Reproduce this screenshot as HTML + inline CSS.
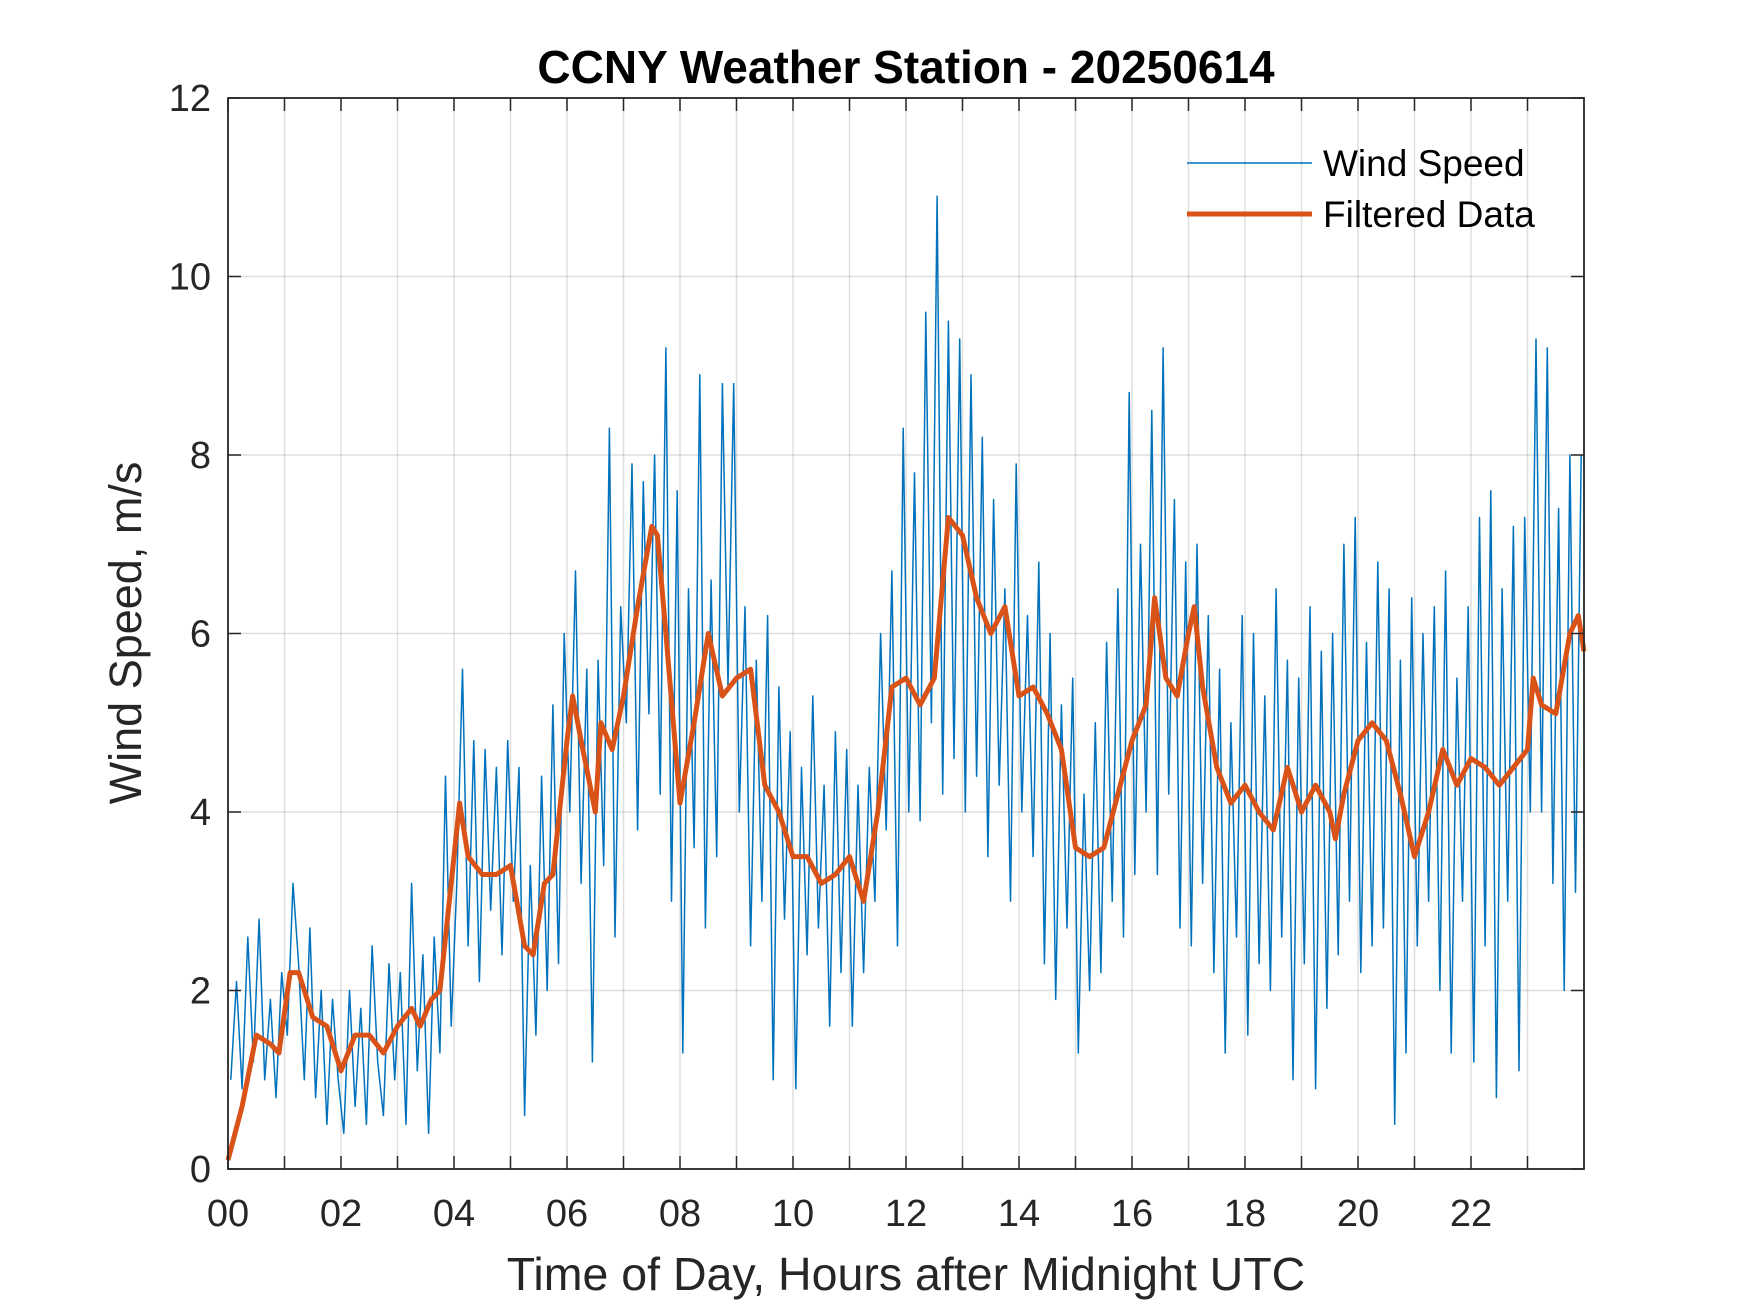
<!DOCTYPE html>
<html><head><meta charset="utf-8"><style>
html,body{margin:0;padding:0;background:#fff;width:1750px;height:1313px;overflow:hidden}
svg{display:block;font-family:"Liberation Sans",Arial,sans-serif}
</style></head><body>
<svg id="chart" width="1750" height="1313" viewBox="0 0 1750 1313">
<rect width="1750" height="1313" fill="#fff"/>
<g id="grid"></g>
<g id="series"></g>
<g id="axes"></g>
<text x="906" y="83" text-anchor="middle" font-size="46" font-weight="bold" fill="#000">CCNY Weather Station - 20250614</text>
<text x="906" y="1290" text-anchor="middle" font-size="46.5" fill="#262626">Time of Day, Hours after Midnight UTC</text>
<text transform="translate(141,633) rotate(-90)" text-anchor="middle" font-size="45" fill="#262626">Wind Speed, m/s</text>
<g>
<line x1="1187" y1="163" x2="1312" y2="163" stroke="#0072BD" stroke-width="1.5"/>
<text x="1323" y="176" font-size="37" fill="#000">Wind Speed</text>
<line x1="1187" y1="214" x2="1312" y2="214" stroke="#D95319" stroke-width="5"/>
<text x="1323" y="227" font-size="37" fill="#000">Filtered Data</text>
</g>
</svg>
<script>
const xTickLabels=["00","02","04","06","08","10","12","14","16","18","20","22"];
const yTickLabels=["0","2","4","6","8","10","12"];
const windSpeed=[
1.0,2.1,0.9,2.6,1.2,2.8,1.0,1.9,0.8,2.2,
1.5,3.2,2.3,1.0,2.7,0.8,2.0,0.5,1.9,1.0,
0.4,2.0,0.7,1.8,0.5,2.5,1.2,0.6,2.3,1.0,
2.2,0.5,3.2,1.1,2.4,0.4,2.6,1.3,4.4,1.6,
3.2,5.6,2.5,4.8,2.1,4.7,2.9,4.5,2.4,4.8,
3.0,4.5,0.6,3.4,1.5,4.4,2.0,5.2,2.3,6.0,
4.0,6.7,3.2,5.6,1.2,5.7,3.4,8.3,2.6,6.3,
5.0,7.9,3.8,7.7,5.1,8.0,4.2,9.2,3.0,7.6,
1.3,6.5,3.6,8.9,2.7,6.6,3.5,8.8,5.4,8.8,
4.0,6.3,2.5,5.7,3.0,6.2,1.0,5.4,2.8,4.9,
0.9,4.5,2.4,5.3,2.7,4.3,1.6,4.9,2.2,4.7,
1.6,4.3,2.2,4.5,3.0,6.0,3.8,6.7,2.5,8.3,
4.0,7.8,3.9,9.6,5.0,10.9,4.2,9.5,4.6,9.3,
4.0,8.9,4.4,8.2,3.5,7.5,4.3,6.5,3.0,7.9,
4.0,6.2,3.5,6.8,2.3,6.0,1.9,5.2,2.7,5.5,
1.3,4.2,2.0,5.0,2.2,5.9,3.0,6.5,2.6,8.7,
3.3,7.0,4.0,8.5,3.3,9.2,4.2,7.5,2.7,6.8,
2.5,7.0,3.2,6.2,2.2,5.6,1.3,5.0,2.6,6.2,
1.5,6.0,2.3,5.3,2.0,6.5,2.6,5.7,1.0,5.5,
2.3,6.3,0.9,5.8,1.8,6.0,2.4,7.0,3.0,7.3,
2.2,5.9,2.5,6.8,2.7,6.5,0.5,5.7,1.3,6.4,
2.5,6.0,3.0,6.3,2.0,6.7,1.3,5.5,3.0,6.3,
1.2,7.3,2.5,7.6,0.8,6.5,3.0,7.2,1.1,7.3,
4.0,9.3,4.0,9.2,3.2,7.4,2.0,8.0,3.1,8.0];
const filtHours=[0,0.25,0.5,0.75,0.9,1.1,1.25,1.5,1.75,2,2.25,2.5,2.75,3,3.25,3.4,3.6,3.75,4,4.1,4.25,4.5,4.75,5,5.25,5.4,5.6,5.75,6,6.1,6.25,6.5,6.6,6.8,7,7.25,7.5,7.6,7.75,8,8.25,8.5,8.75,9,9.25,9.5,9.75,10,10.25,10.5,10.75,11,11.25,11.5,11.75,12,12.25,12.5,12.75,13,13.25,13.5,13.75,14,14.25,14.5,14.75,15,15.25,15.5,15.75,16,16.25,16.4,16.6,16.8,17,17.1,17.25,17.5,17.75,18,18.25,18.5,18.75,19,19.25,19.5,19.6,19.75,20,20.25,20.5,20.75,21,21.25,21.5,21.75,22,22.25,22.5,22.75,23,23.1,23.25,23.5,23.75,23.9,24];
const filtValues=[0.1,0.7,1.5,1.4,1.3,2.2,2.2,1.7,1.6,1.1,1.5,1.5,1.3,1.6,1.8,1.6,1.9,2.0,3.5,4.1,3.5,3.3,3.3,3.4,2.5,2.4,3.2,3.3,4.8,5.3,4.8,4.0,5.0,4.7,5.3,6.3,7.2,7.1,6.0,4.1,5.0,6.0,5.3,5.5,5.6,4.3,4.0,3.5,3.5,3.2,3.3,3.5,3.0,4.0,5.4,5.5,5.2,5.5,7.3,7.1,6.4,6.0,6.3,5.3,5.4,5.1,4.7,3.6,3.5,3.6,4.2,4.8,5.2,6.4,5.5,5.3,6.0,6.3,5.4,4.5,4.1,4.3,4.0,3.8,4.5,4.0,4.3,4.0,3.7,4.2,4.8,5.0,4.8,4.2,3.5,4.0,4.7,4.3,4.6,4.5,4.3,4.5,4.7,5.5,5.2,5.1,6.0,6.2,5.8];

const L=228,R=1584,T=98,B=1169,XMAX=24,YMAX=12;
const xs=h=>L+(h/XMAX)*(R-L);
const ys=v=>B-(v/YMAX)*(B-T);
const NS="http://www.w3.org/2000/svg";
function mk(tag,attrs,parent){const e=document.createElementNS(NS,tag);for(const k in attrs)e.setAttribute(k,attrs[k]);parent.appendChild(e);return e;}
const grid=document.getElementById('grid'),series=document.getElementById('series'),axes=document.getElementById('axes');
for(let h=1;h<24;h++){
  const g=mk('line',{x1:xs(h),x2:xs(h),y1:T,y2:B,stroke:'#262626','stroke-opacity':0.15,'stroke-width':1.5},grid);
  
  
}
yTickLabels.forEach((lab,i)=>{
  const v=i*2;
  if(v>0&&v<YMAX){
    const g=mk('line',{x1:L,x2:R,y1:ys(v),y2:ys(v),stroke:'#262626','stroke-opacity':0.15,'stroke-width':1.5},grid);
    
    
  }
  const t=mk('text',{x:L-17,y:ys(v)+13,'text-anchor':'end','font-size':38,fill:'#262626'},axes);
  t.textContent=lab;
  
  
  [[L,L+13],[R,R-13]].forEach(([a,b])=>{
    const tk=mk('line',{x1:a,x2:b,y1:ys(v),y2:ys(v),stroke:'#262626','stroke-width':1.5},axes);
    
    
  });
});
for(let h=0;h<24;h++){
  [[B,B-13],[T,T+13]].forEach(([a,b])=>{
    const tk=mk('line',{x1:xs(h),x2:xs(h),y1:a,y2:b,stroke:'#262626','stroke-width':1.5},axes);
    
    
  });
}
xTickLabels.forEach((lab,i)=>{
  const t=mk('text',{x:xs(i*2),y:B+57,'text-anchor':'middle','font-size':38,fill:'#262626'},axes);
  t.textContent=lab;
  
  
});
const step=XMAX/windSpeed.length;
const wp=windSpeed.map((v,i)=>xs(i*step+step/2).toFixed(1)+','+ys(v).toFixed(1)).join(' ');
const wl=mk('polyline',{points:wp,fill:'none',stroke:'#0072BD','stroke-width':1.5,'stroke-linejoin':'round'},series);


const fp=filtValues.map((v,i)=>xs(filtHours[i]).toFixed(1)+','+ys(v).toFixed(1)).join(' ');
const fl=mk('polyline',{points:fp,fill:'none',stroke:'#D95319','stroke-width':5,'stroke-linejoin':'round'},series);


const box=mk('rect',{x:L,y:T,width:R-L,height:B-T,fill:'none',stroke:'#262626','stroke-width':1.8},axes);


</script>
</body></html>
